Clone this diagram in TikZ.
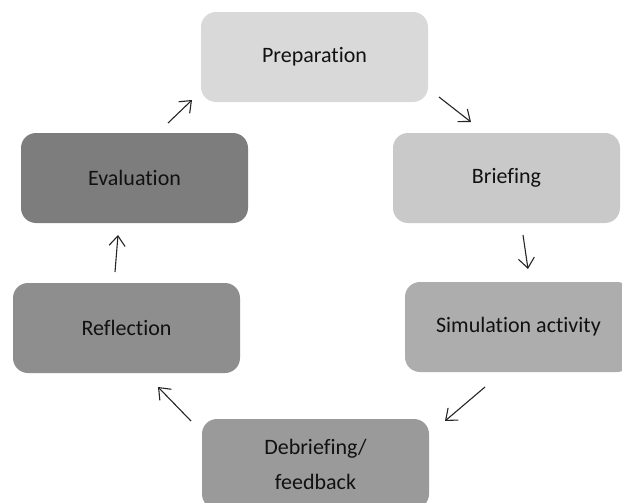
\documentclass[tikz,border=0pt]{standalone}
\usepackage{fontspec}
\setmainfont{Carlito}[Ligatures=NoCommon]
\usepackage{tikz}
\usetikzlibrary{arrows.meta, positioning}
\definecolor{gprep}{HTML}{D9D9D9}
\definecolor{gbrief}{HTML}{C9C9C9}
\definecolor{gsim}{HTML}{ADADAD}
\definecolor{gdebrief}{HTML}{9A9A9A}
\definecolor{grefl}{HTML}{8E8E8E}
\definecolor{geval}{HTML}{7D7D7D}
\definecolor{ctext}{HTML}{111111}

\begin{document}
\begin{tikzpicture}[x=0.5pt, y=-0.5pt,
  stage/.style={rounded corners=7.5pt, minimum width=113.5pt, minimum height=45pt,
    inner sep=0pt, align=center, font=\fontsize{11}{17.5}\selectfont, text=ctext},
  flow/.style={-{Straight Barb[length=5pt, width=8pt]}, line width=0.55pt, draw=black!85}]
  % Page frame
  \useasboundingbox (0,0) rectangle (622,503);
  \clip (0,0) rectangle (622,503);
  \fill[white] (0,0) rectangle (622,503);

  % Stages of the cycle
  \node[stage, fill=gprep]    (prep)  at (314.5, 57)  {Preparation};
  \node[stage, fill=gbrief]   (brief) at (506.5, 178) {Briefing};
  \node[stage, fill=gsim]     (sim)   at (518.5, 327) {Simulation activity};
  \node[stage, fill=gdebrief] (debr)  at (315.5, 464) {Debriefing/\\feedback};
  \node[stage, fill=grefl]    (refl)  at (126.5, 328) {Reflection};
  \node[stage, fill=geval]    (eval)  at (134.5, 178) {Evaluation};

  % Short arrows in the gaps between stages
  \coordinate (a1) at (439, 97);  \coordinate (b1) at (471, 122);
  \coordinate (a2) at (523, 235); \coordinate (b2) at (528, 269);
  \coordinate (a3) at (485, 387); \coordinate (b3) at (445, 421);
  \coordinate (a4) at (191, 421); \coordinate (b4) at (158, 387);
  \coordinate (a5) at (115, 272); \coordinate (b5) at (118, 235);
  \coordinate (a6) at (168, 123); \coordinate (b6) at (192, 100);
  \foreach \i in {1,...,6}{
    \draw[flow] (a\i) -- (b\i);
  }
\end{tikzpicture}
\end{document}
